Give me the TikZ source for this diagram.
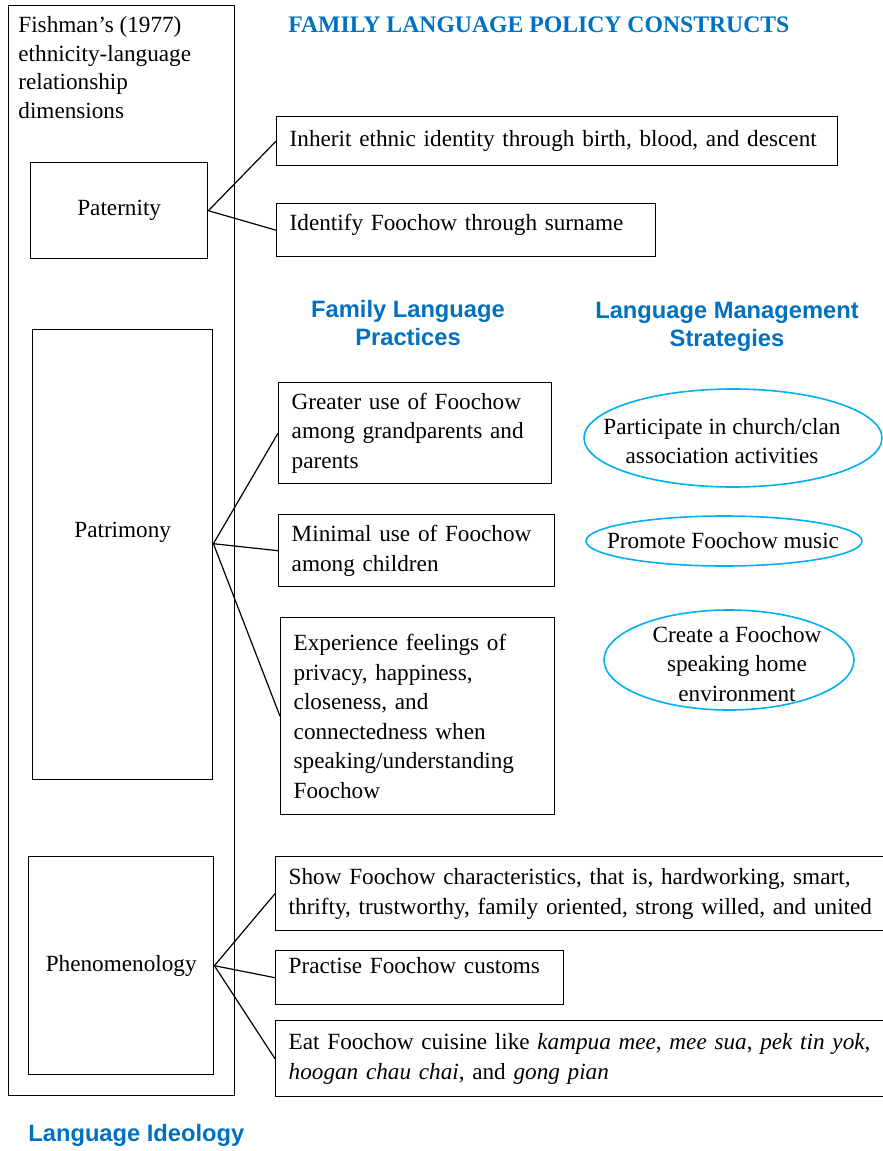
\documentclass[tikz,border=0pt]{standalone}
\usepackage{fontspec}
\setmainfont{Liberation Serif}
\setsansfont{Liberation Sans}
\usepackage{xcolor}
\usetikzlibrary{shapes,positioning,calc}

\definecolor{headblue}{HTML}{0070C0}
\definecolor{ovalblue}{HTML}{00B0F0}

\tikzset{
    txt/.style={font=\fontsize{11.6}{14.75}\selectfont, execute at begin node={\hyphenpenalty=10000\relax\exhyphenpenalty=10000\relax}},
    dimbox/.style={draw, line width=0.7pt, anchor=north west, inner sep=0pt, txt},
    factbox/.style={draw, line width=0.7pt, anchor=north west, align=left, inner xsep=6.5pt, inner ysep=0pt, txt},
    strategy/.style={align=center, inner sep=0pt, txt},
    oval/.style={draw=ovalblue, line width=0.8pt},
    heading/.style={text=headblue, align=center, inner sep=0pt, font=\fontsize{11.85}{14}\selectfont\sffamily\bfseries},
    link/.style={line width=0.6pt}
}

\begin{document}
\begin{tikzpicture}[x=0.5pt, y=-0.5pt]
    \useasboundingbox (0,0) rectangle (883,1151);

    % Titles
    \node [heading, anchor=west, font=\fontsize{11.85}{14}\selectfont\bfseries] (title) at (288,25) {FAMILY LANGUAGE POLICY CONSTRUCTS};
    \node [heading] (practices) at (408,323) {Family Language\\Practices};
    \node [heading] (management) at (727,327) {Language Management\\Strategies};
    \node [heading, anchor=west] (ideology) at (28,1135) {Language Ideology};

    % Fishman dimensions
    \node [dimbox, minimum width=113pt, minimum height=545pt] (fishman) at (8,5) {};
    \node [txt, anchor=north west, align=left, inner sep=0pt, font=\fontsize{11.6}{14.35}\selectfont] (fishlabel) at (18,16) {Fishman’s (1977)\\ethnicity-language\\relationship\\dimensions};
    \node [dimbox, minimum width=88.5pt, minimum height=48pt] (paternity) at (30,162) {Paternity};
    \node [dimbox, minimum width=90pt, minimum height=225pt, label={[txt, yshift=11pt]center:Patrimony}] (patrimony) at (32,329) {};
    \node [dimbox, minimum width=92.5pt, minimum height=109pt] (phenomenology) at (28,856) {Phenomenology};

    % Paternity
    \node [factbox, text width=267.5pt, minimum height=24.5pt] (inherit) at (276,116) {Inherit ethnic identity through birth, blood, and descent};
    \node [factbox, text width=176.5pt, minimum height=26.5pt, text depth=7.7pt] (surname) at (276,203) {Identify Foochow through surname};

    % Patrimony
    \node [factbox, text width=123.5pt, minimum height=50.5pt] (greater) at (278,382) {Greater use of Foochow\\among grandparents and\\parents};
    \node [factbox, text width=125pt, minimum height=36pt] (minimal) at (278,514) {Minimal use of Foochow\\among children};
    \node [factbox, text width=124pt, minimum height=98.5pt] (feelings) at (280,617) {Experience feelings of\\privacy, happiness,\\closeness, and\\connectedness when\\speaking/understanding\\Foochow};

    % Phenomenology
    \node [factbox, text width=300pt, minimum height=37pt] (traits) at (275,856) {Show Foochow characteristics, that is, hardworking, smart,\\thrifty, trustworthy, family oriented, strong willed, and united};
    \node [factbox, text width=131pt, minimum height=27pt, text depth=12.2pt] (customs) at (275,950) {Practise Foochow customs};
    \node [factbox, text width=300pt, minimum height=38pt] (cuisine) at (275,1020) {Eat Foochow cuisine like \textit{kampua mee}, \textit{mee sua}, \textit{pek tin yok},\\\textit{hoogan chau chai}, and \textit{gong pian}};

    % Strategies
    \node [strategy] (church) at (722,441) {Participate in church/clan\\association activities};
    \draw [oval] (733,438) ellipse [x radius=149, y radius=49];
    \node [strategy] (music) at (723,541) {Promote Foochow music};
    \draw [oval] (724,541) ellipse [x radius=138, y radius=25];
    \node [strategy] (home) at (737,664) {Create a Foochow\\speaking home\\environment};
    \draw [oval] (729,660) ellipse [x radius=125, y radius=50];

    % Links
    \draw [link] (paternity.east) -- (inherit.west);
    \draw [link] (paternity.east) -- (surname.west);
    \coordinate (patrhub) at ([yshift=5.5pt]patrimony.east);
    \draw [link] (patrhub) -- (greater.west);
    \draw [link] (patrhub) -- (minimal.west);
    \draw [link] (patrhub) -- (feelings.west);
    \draw [link] (phenomenology.east) -- (traits.west);
    \draw [link] (phenomenology.east) -- (customs.west);
    \draw [link] (phenomenology.east) -- (cuisine.west);
\end{tikzpicture}
\end{document}
